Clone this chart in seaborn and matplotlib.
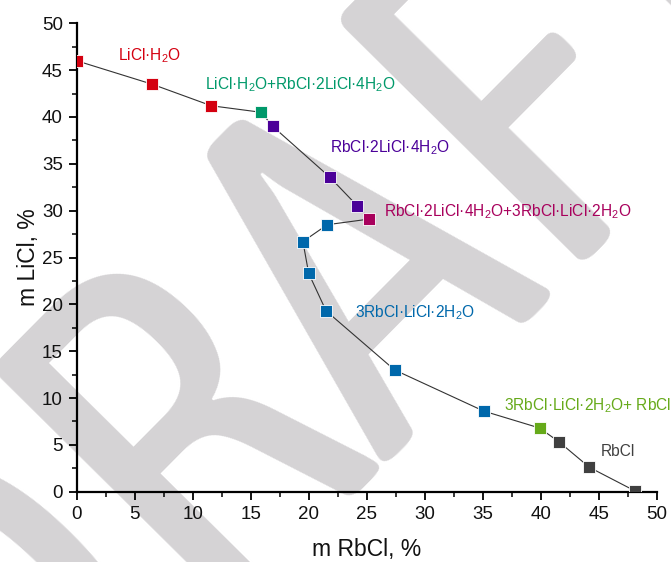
import math
import matplotlib
matplotlib.use("Agg")
import matplotlib.pyplot as plt
from matplotlib import font_manager
from matplotlib.font_manager import FontProperties
from matplotlib.textpath import TextPath
import seaborn as sns
import pandas as pd
from matplotlib.ticker import MultipleLocator

# ---- data ----
x_rbcl = [0.0, 6.5, 11.6, 15.9, 16.9, 21.8, 24.2, 25.2, 21.6, 19.5, 20.0, 21.5, 27.4, 35.1, 39.9, 41.6, 44.2, 48.1]
y_licl = [46.0, 43.5, 41.2, 40.5, 39.0, 33.6, 30.5, 29.1, 28.5, 26.7, 23.3, 19.3, 13.0, 8.6, 6.8, 5.3, 2.6, 0.1]
phase = ["LiCl·H2O", "LiCl·H2O", "LiCl·H2O",
         "LiCl·H2O+RbCl·2LiCl·4H2O",
         "RbCl·2LiCl·4H2O", "RbCl·2LiCl·4H2O", "RbCl·2LiCl·4H2O",
         "RbCl·2LiCl·4H2O+3RbCl·LiCl·2H2O",
         "3RbCl·LiCl·2H2O", "3RbCl·LiCl·2H2O", "3RbCl·LiCl·2H2O", "3RbCl·LiCl·2H2O",
         "3RbCl·LiCl·2H2O", "3RbCl·LiCl·2H2O",
         "3RbCl·LiCl·2H2O+RbCl",
         "RbCl", "RbCl", "RbCl"]
phase_names = ["LiCl·H2O", "LiCl·H2O+RbCl·2LiCl·4H2O", "RbCl·2LiCl·4H2O",
               "RbCl·2LiCl·4H2O+3RbCl·LiCl·2H2O", "3RbCl·LiCl·2H2O",
               "3RbCl·LiCl·2H2O+RbCl", "RbCl"]
phase_labels = ["LiCl·H$_\\mathregular{2}$O",
                "LiCl·H$_\\mathregular{2}$O+RbCl·2LiCl·4H$_\\mathregular{2}$O",
                "RbCl·2LiCl·4H$_\\mathregular{2}$O",
                "RbCl·2LiCl·4H$_\\mathregular{2}$O+3RbCl·LiCl·2H$_\\mathregular{2}$O",
                "3RbCl·LiCl·2H$_\\mathregular{2}$O",
                "3RbCl·LiCl·2H$_\\mathregular{2}$O+ RbCl",
                "RbCl"]
label_x = [3.6, 11.05, 21.8, 26.5, 24.0, 36.85, 45.2]
label_y = [46.5, 43.5, 36.7, 29.9, 19.1, 9.2, 4.3]
phase_colors = ["#d40010", "#00996a", "#4b0099", "#a8005c", "#0068ab", "#66aa1a", "#404040"]
watermark = "DRAFT"

df = pd.DataFrame({"x": x_rbcl, "y": y_licl, "phase": phase})

sns.set_theme(style="ticks")
plt.rcParams["font.family"] = ["Liberation Sans", "DejaVu Sans"]
plt.rcParams["mathtext.fontset"] = "custom"
plt.rcParams["mathtext.rm"] = "Liberation Sans"
plt.rcParams["mathtext.it"] = "Liberation Sans:italic"
plt.rcParams["mathtext.bf"] = "Liberation Sans:bold"

# ---- pick a narrow sans font for the watermark (A width/height close to reference) ----
target_ratio = 0.70
best = None
for f in font_manager.fontManager.ttflist:
    n = f.name
    if f.style != "normal":
        continue
    try:
        w = int(f.weight)
    except Exception:
        w = 400
    if w != 400:
        continue
    if any(k in n for k in ("Serif", "Mono", "Slab", "Display")):
        continue
    ok = ("Condensed" in n or "Narrow" in n
          or (n == "DejaVu Sans" and f.stretch == "condensed")
          or n == "Liberation Sans")
    if not ok:
        continue
    try:
        fp = FontProperties(fname=f.fname)
        ext = TextPath((0, 0), "A", size=1, prop=fp).get_extents()
        r = ext.width / ext.height
    except Exception:
        continue
    score = abs(r - target_ratio)
    if best is None or score < best[0]:
        best = (score, f.fname)

wm_fp = FontProperties(fname=best[1]) if best else FontProperties(family="Liberation Sans")
a_ext = TextPath((0, 0), "A", size=1, prop=wm_fp).get_extents()
dra_ext = TextPath((0, 0), watermark[:3], size=1, prop=wm_fp).get_extents()
em_px = 349.0 / a_ext.height
a_center_em = dra_ext.x1 - a_ext.width / 2.0
theta = math.radians(45.3)
base_x, base_y = 458.7, 350.3       # reference A base centre (pixels)
anc_x = base_x - math.cos(theta) * a_center_em * em_px
anc_y = base_y + math.sin(theta) * a_center_em * em_px
wm_fp.set_size(em_px * 72.0 / 100.0)

fig = plt.figure(figsize=(6.71, 5.62), dpi=100)
ax = fig.add_axes([76.7 / 671, 1 - 491.7 / 562, 580 / 671, (491.7 - 23.3) / 562])
ax.patch.set_alpha(0)

fig.text(anc_x / 671, 1 - anc_y / 562, watermark, rotation=45.3, rotation_mode="anchor",
         ha="left", va="baseline", color="#d5d3d5", zorder=-10, fontproperties=wm_fp)

sns.lineplot(data=df, x="x", y="y", sort=False, estimator=None, color="#333333",
             linewidth=0.8, ax=ax, zorder=2)
sns.scatterplot(data=df, x="x", y="y", hue="phase", hue_order=phase_names,
                palette=phase_colors, marker="s", s=75, edgecolor="white",
                linewidth=0.6, ax=ax, legend=False, zorder=3)

for lab, lx, ly, c in zip(phase_labels, label_x, label_y, phase_colors):
    ax.text(lx, ly, lab, color=c, fontsize=11.2, ha="left", va="center")

ax.set_xlim(0, 50)
ax.set_ylim(0, 50)
ax.xaxis.set_major_locator(MultipleLocator(5))
ax.xaxis.set_minor_locator(MultipleLocator(2.5))
ax.yaxis.set_major_locator(MultipleLocator(5))
ax.yaxis.set_minor_locator(MultipleLocator(2.5))
ax.tick_params(which="major", length=6, width=1.3, labelsize=13.5, pad=4, color="black", labelcolor="#111111")
ax.tick_params(which="minor", length=3.5, width=1.1, color="black")
for s in ["top", "right"]:
    ax.spines[s].set_visible(False)
for s in ["left", "bottom"]:
    ax.spines[s].set_linewidth(1.6)
    ax.spines[s].set_color("black")

ax.set_xlabel("m RbCl, %", fontsize=16.5, labelpad=11, color="#111111")
ax.set_ylabel("m LiCl, %", fontsize=16.5, labelpad=1, color="#111111")

fig.savefig("out.png", dpi=100)
